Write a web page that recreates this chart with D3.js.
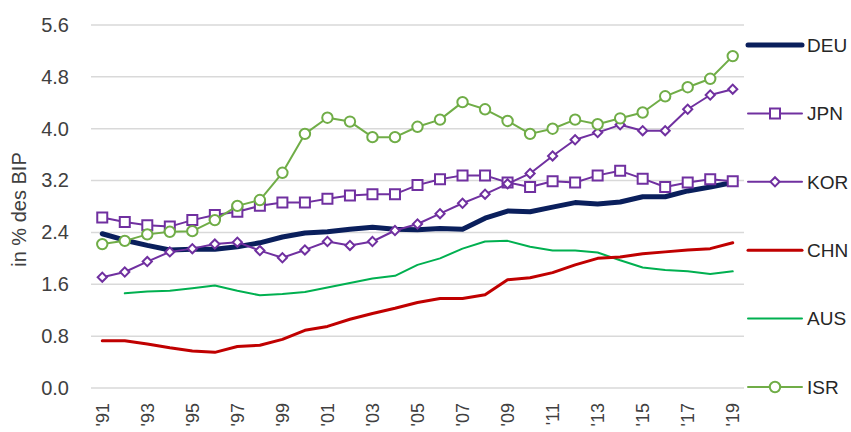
<!DOCTYPE html>
<html>
<head>
<meta charset="utf-8">
<script src="https://cdn.jsdelivr.net/npm/d3@7"></script>
<style>
  body { margin: 0; background: #fff; }
  svg { font-family: "Liberation Sans", Arial, sans-serif; }
</style>
</head>
<body>
<svg id="chart" width="851" height="432"></svg>
<script>
const years = d3.range(1991, 2020);
const yTicks = [0, 0.8, 1.6, 2.4, 3.2, 4.0, 4.8, 5.6];

const deu = [2.38, 2.28, 2.20, 2.13, 2.14, 2.14, 2.18, 2.24, 2.33, 2.39, 2.41, 2.45, 2.48, 2.45, 2.44, 2.46, 2.45, 2.62, 2.73, 2.72, 2.79, 2.86, 2.84, 2.87, 2.95, 2.95, 3.04, 3.10, 3.17];
const jpn = [2.63, 2.56, 2.51, 2.49, 2.59, 2.67, 2.72, 2.81, 2.86, 2.86, 2.92, 2.97, 2.99, 2.99, 3.13, 3.22, 3.28, 3.28, 3.17, 3.10, 3.19, 3.17, 3.28, 3.35, 3.23, 3.10, 3.17, 3.22, 3.19];
const kor = [1.71, 1.79, 1.95, 2.10, 2.15, 2.22, 2.25, 2.12, 2.01, 2.13, 2.26, 2.20, 2.26, 2.43, 2.53, 2.69, 2.85, 2.99, 3.15, 3.31, 3.58, 3.83, 3.94, 4.06, 3.97, 3.97, 4.30, 4.52, 4.61];
const chn = [0.73, 0.73, 0.68, 0.62, 0.57, 0.55, 0.64, 0.66, 0.75, 0.89, 0.95, 1.06, 1.15, 1.23, 1.32, 1.38, 1.38, 1.44, 1.67, 1.70, 1.78, 1.90, 2.00, 2.02, 2.07, 2.10, 2.13, 2.15, 2.24];
const aus = [null, 1.46, 1.49, 1.50, 1.54, 1.58, 1.50, 1.43, 1.45, 1.48, 1.55, 1.62, 1.69, 1.73, 1.90, 2.00, 2.15, 2.26, 2.27, 2.18, 2.12, 2.12, 2.09, 1.97, 1.86, 1.82, 1.80, 1.76, 1.80];
const isr = [2.22, 2.27, 2.37, 2.41, 2.42, 2.59, 2.81, 2.90, 3.32, 3.92, 4.17, 4.11, 3.87, 3.87, 4.03, 4.14, 4.41, 4.30, 4.12, 3.92, 4.00, 4.14, 4.07, 4.16, 4.25, 4.50, 4.64, 4.77, 5.12];

const series = [
  { name: "DEU", values: deu, color: "#0a1f5c", width: 5, marker: null },
  { name: "JPN", values: jpn, color: "#7030a0", width: 2, marker: "square" },
  { name: "KOR", values: kor, color: "#7030a0", width: 2, marker: "diamond" },
  { name: "CHN", values: chn, color: "#c00000", width: 3, marker: null },
  { name: "AUS", values: aus, color: "#00b050", width: 2, marker: null },
  { name: "ISR", values: isr, color: "#70ad47", width: 2, marker: "circle" },
];

const margin = { left: 91, right: 107, top: 25, bottom: 44 };
const width = 851, height = 432;
const svg = d3.select("#chart");

const x = d3.scaleBand()
  .domain(years)
  .range([margin.left, width - margin.right]);
const y = d3.scaleLinear()
  .domain([0, 5.6])
  .range([height - margin.bottom, margin.top]);
const cx = (d) => x(d) + x.bandwidth() / 2;

// gridlines
svg.append("g")
  .selectAll("line")
  .data(yTicks)
  .join("line")
  .attr("x1", margin.left)
  .attr("x2", width - margin.right)
  .attr("y1", (d) => y(d))
  .attr("y2", (d) => y(d))
  .attr("stroke", "#d9d9d9")
  .attr("stroke-width", 1.5);

// y axis labels
const yAxis = svg.append("g")
  .attr("transform", `translate(${margin.left - 19},0)`)
  .call(d3.axisLeft(y).tickValues(yTicks).tickFormat(d3.format(".1f")).tickSize(0));
yAxis.select(".domain").remove();
yAxis.selectAll("text")
  .attr("font-size", 20)
  .attr("fill", "#404040")
  .attr("font-family", "Liberation Sans, Arial, sans-serif");

// x axis labels (odd years)
const xAxis = svg.append("g")
  .attr("transform", `translate(0,${height - margin.bottom + 15})`)
  .call(d3.axisBottom(x)
    .tickValues(years.filter((d) => d % 2 === 1))
    .tickFormat((d) => "'" + String(d).slice(2))
    .tickSize(0));
xAxis.select(".domain").remove();
xAxis.selectAll("text")
  .attr("font-size", 18)
  .attr("fill", "#404040")
  .attr("font-family", "Liberation Sans, Arial, sans-serif")
  .attr("text-anchor", "end")
  .attr("transform", "rotate(-90)")
  .attr("x", 0)
  .attr("y", 0)
  .attr("dy", "0.35em");

// axis title
svg.append("text")
  .attr("transform", `translate(26,${(margin.top + height - margin.bottom) / 2 + 3}) rotate(-90)`)
  .attr("text-anchor", "middle")
  .attr("font-size", 20)
  .attr("fill", "#404040")
  .text("in % des BIP");

const line = d3.line()
  .defined((d) => d.v != null)
  .x((d) => cx(d.year))
  .y((d) => y(d.v));

const symbolFor = {
  square: { d: d3.symbol().type(d3.symbolSquare).size(100)(), rot: 0 },
  diamond: { d: d3.symbol().type(d3.symbolSquare).size(42)(), rot: 45 },
  circle: { d: d3.symbol().type(d3.symbolCircle).size(85)(), rot: 0 },
};

// draw lower-priority series first
const drawOrder = ["AUS", "CHN", "DEU", "JPN", "KOR", "ISR"];
drawOrder.forEach((name) => {
  const s = series.find((e) => e.name === name);
  const pts = years.map((year, i) => ({ year, v: s.values[i] }));
  const g = svg.append("g").attr("class", "series-" + s.name);
  g.append("path")
    .datum(pts)
    .attr("fill", "none")
    .attr("stroke", s.color)
    .attr("stroke-width", s.width)
    .attr("stroke-linejoin", "round")
    .attr("stroke-linecap", "round")
    .attr("d", line);
  if (s.marker) {
    const m = symbolFor[s.marker];
    g.selectAll("path.marker")
      .data(pts.filter((d) => d.v != null))
      .join("path")
      .attr("class", "marker")
      .attr("transform", (d) => `translate(${cx(d.year)},${y(d.v)}) rotate(${m.rot})`)
      .attr("d", m.d)
      .attr("fill", "#fff")
      .attr("stroke", s.color)
      .attr("stroke-width", 2);
  }
});

// legend
const legend = svg.append("g").attr("transform", "translate(747,0)");
const legendY = d3.scalePoint()
  .domain(series.map((d) => d.name))
  .range([45, 387]);
series.forEach((s) => {
  const ly = legendY(s.name);
  const g = legend.append("g").attr("transform", `translate(0,${ly})`);
  g.append("line")
    .attr("x1", 1)
    .attr("x2", 55)
    .attr("stroke", s.color)
    .attr("stroke-width", s.width)
    .attr("stroke-linecap", "round");
  if (s.marker) {
    const m = symbolFor[s.marker];
    g.append("path")
      .attr("transform", `translate(28,0) rotate(${m.rot})`)
      .attr("d", m.d)
      .attr("fill", "#fff")
      .attr("stroke", s.color)
      .attr("stroke-width", 2);
  }
  g.append("text")
    .attr("x", 60)
    .attr("dy", "0.36em")
    .attr("font-size", 19)
    .attr("fill", "#262626")
    .text(s.name);
});
</script>
</body>
</html>
